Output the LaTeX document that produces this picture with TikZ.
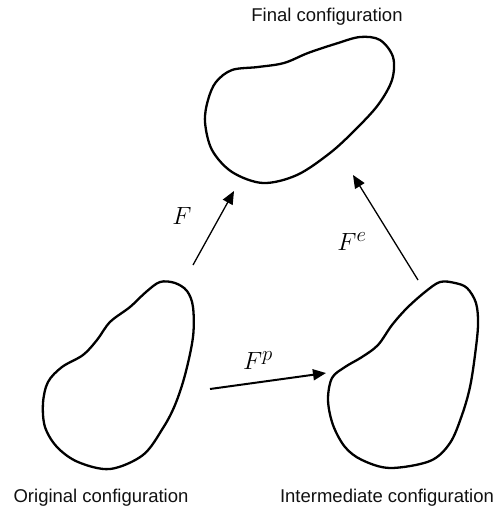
\documentclass[tikz,border=0pt]{standalone}
\usepackage{fontspec}
\setmainfont{Liberation Sans}
\usetikzlibrary{
  positioning,
  arrows.meta,
}
\definecolor{border}{HTML}{000000}
\definecolor{textCol}{HTML}{111111}
\tikzset{
  blob/.style={
    draw=border, line width=2.3pt, line join=round,
  },
  arrow/.style={-{Triangle[length=13pt,width=11pt]}, border, line width=1.3pt},
  thickarrow/.style={arrow, line width=2pt},
  cfglabel/.style={font=\fontsize{18.5}{21}\selectfont, text=textCol, inner sep=0pt, anchor=base},
  maplabel/.style={font=\fontsize{31}{34}\selectfont, inner sep=0pt},
}

\begin{document}
\begin{tikzpicture}[x=1pt, y=-1pt]

  \useasboundingbox (0,0) rectangle (495,508);

  % Bodies
  \draw[blob] plot[smooth cycle, tension=0.55] coordinates {
    (205,122) (208,100) (216,82) (232,70) (258,67) (284,63) (308,53)
    (335,44) (360,37) (380,40) (393,57) (392,80) (378,105) (355,130)
    (330,153) (297,175) (263,183) (232,172) (212,150)};
  \draw[blob] plot[smooth cycle, tension=0.55] coordinates {
    (160,282) (175,283) (187,291) (193,307) (193,337) (185,375) (175,405)
    (163,428) (143,455) (110,469) (78,462) (57,447) (45,427) (43,403)
    (48,382) (62,367) (83,355) (97,340) (110,322) (130,307) (146,292)};
  \draw[blob] plot[smooth cycle, tension=0.55] coordinates {
    (440,282) (455,283) (467,288) (476,303) (478,325) (475,355) (470,387)
    (462,415) (450,443) (430,461) (390,468) (362,460) (345,447) (333,425)
    (328,400) (332,378) (345,367) (362,357) (378,345) (392,325) (407,308)
    (425,292)};

  % Captions
  \node[cfglabel] (final) at (327,22) {Final configuration};
  \node[cfglabel] (orig) at (101,502) {Original configuration};
  \node[cfglabel] (inter) at (387,502) {Intermediate configuration};

  % Maps
  \coordinate (Ftail) at (193,265);
  \coordinate (Fhead) at (234,191);
  \coordinate (Fetail) at (418,280);
  \coordinate (Fehead) at (353,175);
  \coordinate (Fptail) at (210,389);
  \coordinate (Fphead) at (326,373);

  \draw[arrow] (Ftail) -- (Fhead);
  \draw[arrow] (Fetail) -- (Fehead);
  \draw[thickarrow] (Fptail) -- (Fphead);

  \node[maplabel] (F) at (182,216) {$F$};
  \node[maplabel] (Fe) at (352,242) {$F^e$};
  \node[maplabel] (Fp) at (258,361) {$F^p$};

\end{tikzpicture}
\end{document}
